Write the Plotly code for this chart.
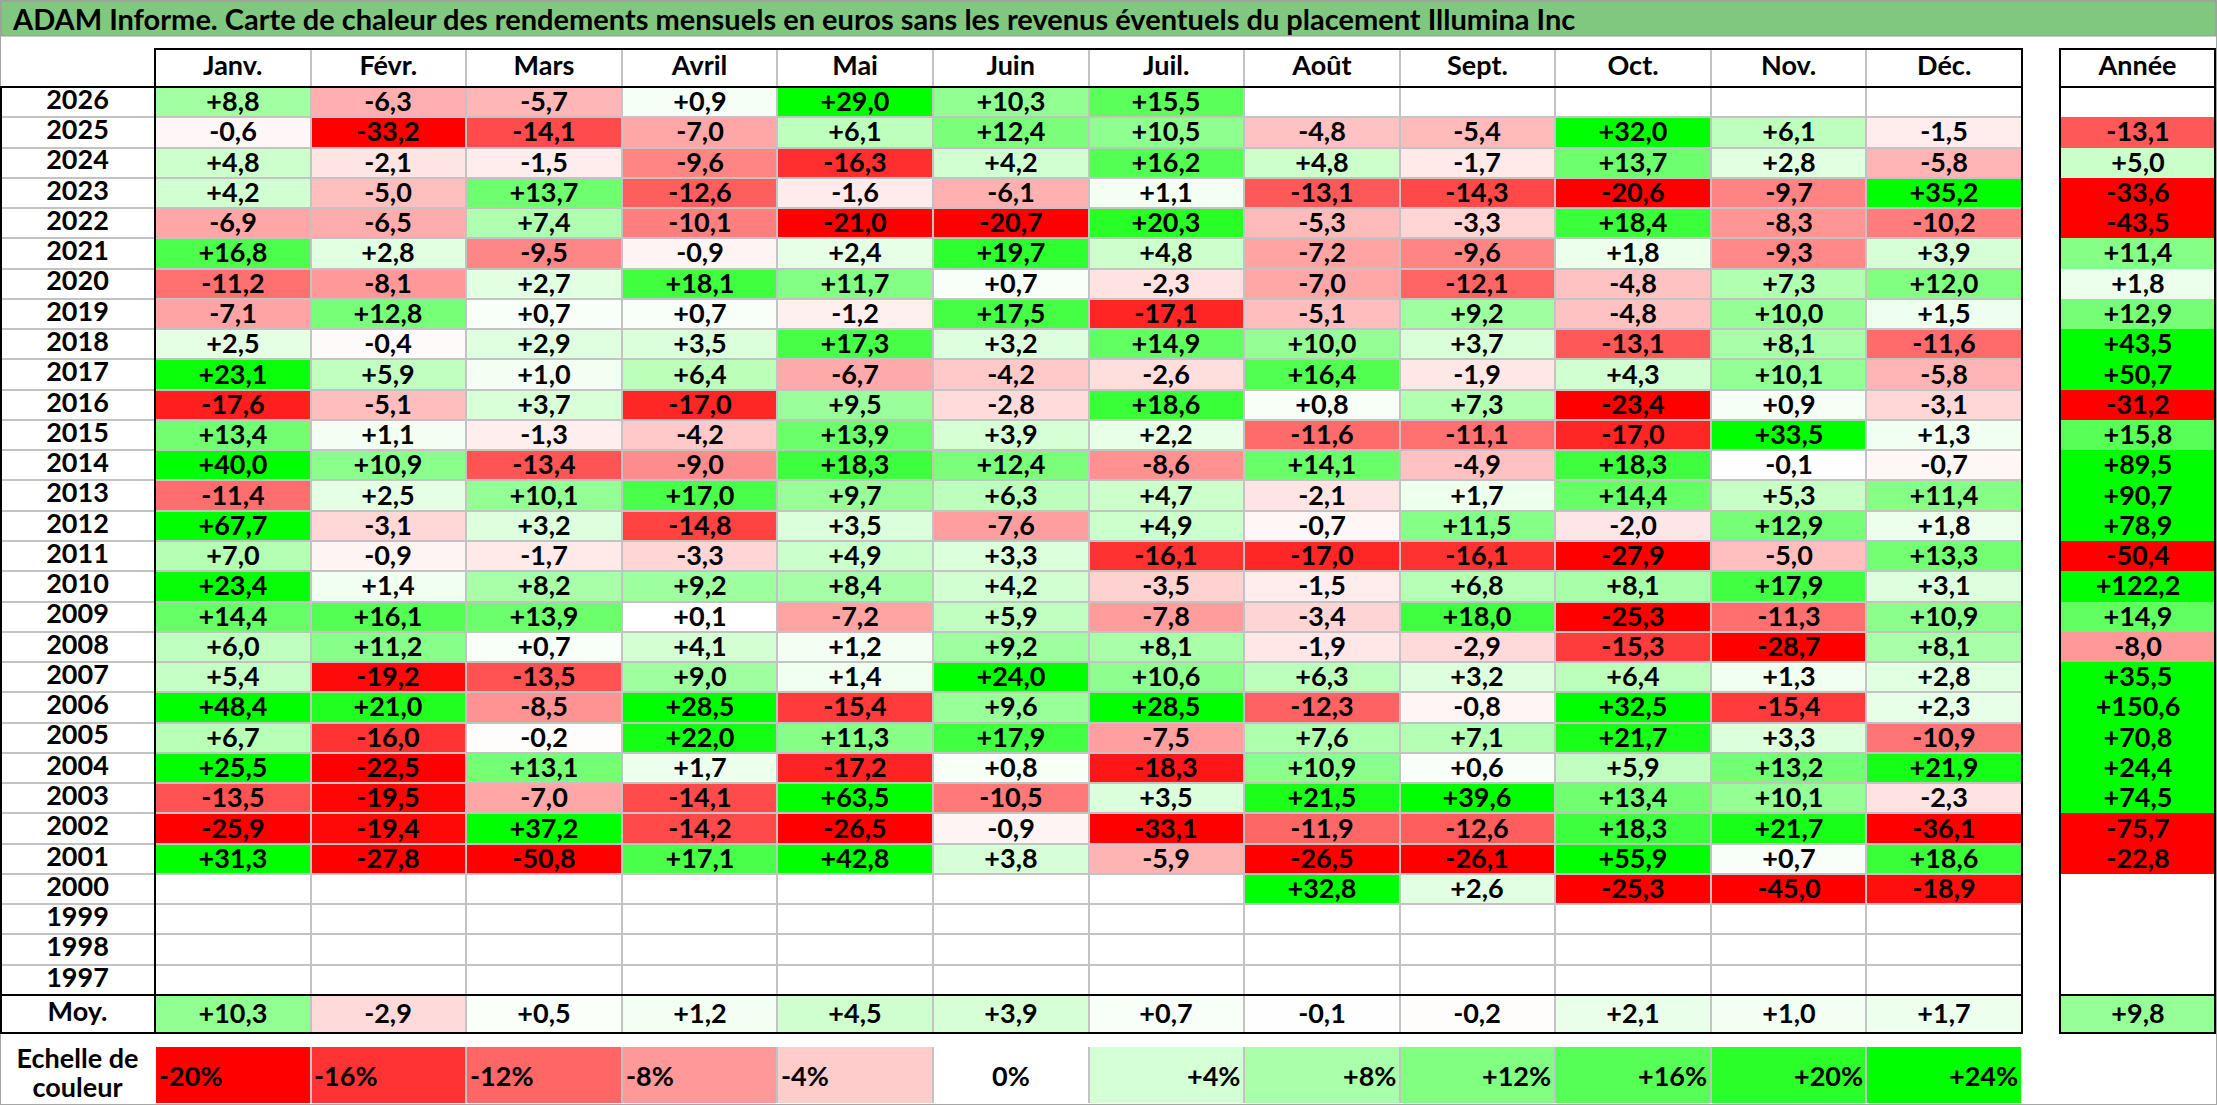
import plotly.graph_objects as go

# ---- data ----
months = ['Janv.', 'Févr.', 'Mars', 'Avril', 'Mai', 'Juin', 'Juil.', 'Août', 'Sept.', 'Oct.', 'Nov.', 'Déc.']
years = [2026, 2025, 2024, 2023, 2022, 2021, 2020, 2019, 2018, 2017, 2016, 2015, 2014, 2013, 2012,
         2011, 2010, 2009, 2008, 2007, 2006, 2005, 2004, 2003, 2002, 2001, 2000, 1999, 1998, 1997]

y2026 = [8.8, -6.3, -5.7, 0.9, 29.0, 10.3, 15.5, None, None, None, None, None]
y2025 = [-0.6, -33.2, -14.1, -7.0, 6.1, 12.4, 10.5, -4.8, -5.4, 32.0, 6.1, -1.5]
y2024 = [4.8, -2.1, -1.5, -9.6, -16.3, 4.2, 16.2, 4.8, -1.7, 13.7, 2.8, -5.8]
y2023 = [4.2, -5.0, 13.7, -12.6, -1.6, -6.1, 1.1, -13.1, -14.3, -20.6, -9.7, 35.2]
y2022 = [-6.9, -6.5, 7.4, -10.1, -21.0, -20.7, 20.3, -5.3, -3.3, 18.4, -8.3, -10.2]
y2021 = [16.8, 2.8, -9.5, -0.9, 2.4, 19.7, 4.8, -7.2, -9.6, 1.8, -9.3, 3.9]
y2020 = [-11.2, -8.1, 2.7, 18.1, 11.7, 0.7, -2.3, -7.0, -12.1, -4.8, 7.3, 12.0]
y2019 = [-7.1, 12.8, 0.7, 0.7, -1.2, 17.5, -17.1, -5.1, 9.2, -4.8, 10.0, 1.5]
y2018 = [2.5, -0.4, 2.9, 3.5, 17.3, 3.2, 14.9, 10.0, 3.7, -13.1, 8.1, -11.6]
y2017 = [23.1, 5.9, 1.0, 6.4, -6.7, -4.2, -2.6, 16.4, -1.9, 4.3, 10.1, -5.8]
y2016 = [-17.6, -5.1, 3.7, -17.0, 9.5, -2.8, 18.6, 0.8, 7.3, -23.4, 0.9, -3.1]
y2015 = [13.4, 1.1, -1.3, -4.2, 13.9, 3.9, 2.2, -11.6, -11.1, -17.0, 33.5, 1.3]
y2014 = [40.0, 10.9, -13.4, -9.0, 18.3, 12.4, -8.6, 14.1, -4.9, 18.3, -0.1, -0.7]
y2013 = [-11.4, 2.5, 10.1, 17.0, 9.7, 6.3, 4.7, -2.1, 1.7, 14.4, 5.3, 11.4]
y2012 = [67.7, -3.1, 3.2, -14.8, 3.5, -7.6, 4.9, -0.7, 11.5, -2.0, 12.9, 1.8]
y2011 = [7.0, -0.9, -1.7, -3.3, 4.9, 3.3, -16.1, -17.0, -16.1, -27.9, -5.0, 13.3]
y2010 = [23.4, 1.4, 8.2, 9.2, 8.4, 4.2, -3.5, -1.5, 6.8, 8.1, 17.9, 3.1]
y2009 = [14.4, 16.1, 13.9, 0.1, -7.2, 5.9, -7.8, -3.4, 18.0, -25.3, -11.3, 10.9]
y2008 = [6.0, 11.2, 0.7, 4.1, 1.2, 9.2, 8.1, -1.9, -2.9, -15.3, -28.7, 8.1]
y2007 = [5.4, -19.2, -13.5, 9.0, 1.4, 24.0, 10.6, 6.3, 3.2, 6.4, 1.3, 2.8]
y2006 = [48.4, 21.0, -8.5, 28.5, -15.4, 9.6, 28.5, -12.3, -0.8, 32.5, -15.4, 2.3]
y2005 = [6.7, -16.0, -0.2, 22.0, 11.3, 17.9, -7.5, 7.6, 7.1, 21.7, 3.3, -10.9]
y2004 = [25.5, -22.5, 13.1, 1.7, -17.2, 0.8, -18.3, 10.9, 0.6, 5.9, 13.2, 21.9]
y2003 = [-13.5, -19.5, -7.0, -14.1, 63.5, -10.5, 3.5, 21.5, 39.6, 13.4, 10.1, -2.3]
y2002 = [-25.9, -19.4, 37.2, -14.2, -26.5, -0.9, -33.1, -11.9, -12.6, 18.3, 21.7, -36.1]
y2001 = [31.3, -27.8, -50.8, 17.1, 42.8, 3.8, -5.9, -26.5, -26.1, 55.9, 0.7, 18.6]
y2000 = [None, None, None, None, None, None, None, 32.8, 2.6, -25.3, -45.0, -18.9]
y1999 = [None, None, None, None, None, None, None, None, None, None, None, None]
y1998 = [None, None, None, None, None, None, None, None, None, None, None, None]
y1997 = [None, None, None, None, None, None, None, None, None, None, None, None]

annee = [None, -13.1, 5.0, -33.6, -43.5, 11.4, 1.8, 12.9, 43.5, 50.7, -31.2, 15.8, 89.5, 90.7, 78.9,
         -50.4, 122.2, 14.9, -8.0, 35.5, 150.6, 70.8, 24.4, 74.5, -75.7, -22.8, None, None, None, None]
moy = [10.3, -2.9, 0.5, 1.2, 4.5, 3.9, 0.7, -0.1, -0.2, 2.1, 1.0, 1.7]
moy_annee = 9.8
scale_steps = [-20, -16, -12, -8, -4, 0, 4, 8, 12, 16, 20, 24]

title = ("ADAM Informe. Carte de chaleur des rendements mensuels en euros "
         "sans les revenus éventuels du placement Illumina Inc")

monthly = [y2026, y2025, y2024, y2023, y2022, y2021, y2020, y2019, y2018, y2017, y2016, y2015,
           y2014, y2013, y2012, y2011, y2010, y2009, y2008, y2007, y2006, y2005, y2004, y2003,
           y2002, y2001, y2000, y1999, y1998, y1997]

# ---- layout in pixels ----
W, H = 2217, 1105
LAB_R = 155
MON_L, MON_R = 155, 2022
ANN_L, ANN_R = 2060, 2215
TITLE_B = 36
HEAD_T, HEAD_B = 49, 87
GRID_B = 995
MOY_B = 1033
SCALE_T, SCALE_B = 1047, 1103

FONT = "Lato"
FS = 27
GRID = "#C3C3C3"

def fx(p):
    return p / W

def fy(p):
    return 1 - p / H

def fmt(v):
    if v is None:
        return ""
    return ("%+.1f" % v).replace(".", ",")

def cell_font():
    return dict(family=FONT, size=FS, color="black", weight="bold")

zmin, zmax = -20, 24
cscale = [[0, "rgb(255,0,0)"], [(0 - zmin) / (zmax - zmin), "rgb(255,255,255)"], [1, "rgb(0,255,0)"]]

col_idx = list(range(len(months)))

fig = go.Figure()

# monthly grid
fig.add_trace(go.Heatmap(
    x=col_idx, y=years, z=monthly,
    text=[[fmt(v) for v in row] for row in monthly], texttemplate="%{text}", textfont=cell_font(),
    colorscale=cscale, zmin=zmin, zmax=zmax, showscale=False, xgap=2, ygap=2,
    hoverongaps=False, hoverinfo="skip", xaxis="x", yaxis="y"))

# yearly column
fig.add_trace(go.Heatmap(
    x=[0], y=years, z=[[v] for v in annee],
    text=[[fmt(v)] for v in annee], texttemplate="%{text}", textfont=cell_font(),
    colorscale=cscale, zmin=zmin, zmax=zmax, showscale=False,
    hoverongaps=False, hoverinfo="skip", xaxis="x2", yaxis="y5"))

# averages row
fig.add_trace(go.Heatmap(
    x=col_idx, y=[0], z=[moy], text=[[fmt(v) for v in moy]], texttemplate="%{text}",
    textfont=cell_font(), colorscale=cscale, zmin=zmin, zmax=zmax, showscale=False, xgap=2,
    hoverinfo="skip", xaxis="x", yaxis="y2"))
fig.add_trace(go.Heatmap(
    x=[0], y=[0], z=[[moy_annee]], text=[[fmt(moy_annee)]], texttemplate="%{text}",
    textfont=cell_font(), colorscale=cscale, zmin=zmin, zmax=zmax, showscale=False,
    hoverinfo="skip", xaxis="x2", yaxis="y2"))

# colour scale row
fig.add_trace(go.Heatmap(
    x=col_idx, y=[0], z=[scale_steps], colorscale=cscale, zmin=zmin, zmax=zmax,
    showscale=False, xgap=2, hoverinfo="skip", xaxis="x", yaxis="y3"))

# header labels
fig.add_trace(go.Scatter(x=col_idx, y=[0] * len(months), text=months, mode="text",
                         textfont=cell_font(), hoverinfo="skip", xaxis="x", yaxis="y4"))
fig.add_trace(go.Scatter(x=[0], y=[0], text=["Année"], mode="text",
                         textfont=cell_font(), hoverinfo="skip", xaxis="x2", yaxis="y4"))

# row labels
fig.add_trace(go.Scatter(x=[0] * len(years), y=years, text=[str(y) for y in years], mode="text",
                         textfont=cell_font(), hoverinfo="skip", xaxis="x3", yaxis="y"))
fig.add_trace(go.Scatter(x=[0], y=[0], text=["Moy."], mode="text",
                         textfont=cell_font(), hoverinfo="skip", xaxis="x3", yaxis="y2"))
# two lines, set tight like the spreadsheet cell
fig.add_trace(go.Scatter(x=[0, 0], y=[0.25, -0.27], text=["Echelle de", "couleur"], mode="text",
                         textfont=cell_font(), hoverinfo="skip", xaxis="x3", yaxis="y3"))

# scale labels: negatives left, 0 centred, positives right
annotations = []
for i, s in enumerate(scale_steps):
    if s < 0:
        txt, anchor, shift = "%d%%" % s, "left", -76
    elif s == 0:
        txt, anchor, shift = "0%", "center", 0
    else:
        txt, anchor, shift = "+%d%%" % s, "right", 76
    annotations.append(dict(x=i, y=0, xref="x", yref="y3", text=txt, showarrow=False,
                            xanchor=anchor, xshift=shift, font=cell_font()))

annotations.append(dict(x=fx(10), y=fy(TITLE_B / 2), xref="paper", yref="paper", text=title,
                        showarrow=False, xanchor="left", yanchor="middle",
                        font=dict(family=FONT, size=29, color="black", weight="bold")))

# borders
black = dict(color="black", width=2)
shapes = [
    dict(type="rect", x0=0, x1=1, y0=0, y1=1, xref="paper", yref="paper",
         line=dict(color="#A6A6A6", width=2), layer="below"),
    dict(type="rect", x0=fx(1), x1=fx(W - 1), y0=fy(TITLE_B), y1=fy(1), xref="paper", yref="paper",
         fillcolor="#80C880", line=dict(color="#9A9A9A", width=1), layer="below"),
    dict(type="rect", x0=fx(MON_L), x1=fx(MON_R), y0=fy(MOY_B), y1=fy(HEAD_T),
         xref="paper", yref="paper", line=black),
    dict(type="rect", x0=fx(ANN_L), x1=fx(ANN_R), y0=fy(MOY_B), y1=fy(HEAD_T),
         xref="paper", yref="paper", line=black),
    dict(type="line", x0=fx(1), x1=fx(1), y0=fy(MOY_B), y1=fy(HEAD_B),
         xref="paper", yref="paper", line=black),
]
for yy in (HEAD_B, GRID_B, MOY_B):
    shapes.append(dict(type="line", x0=0, x1=fx(MON_R), y0=fy(yy), y1=fy(yy),
                       xref="paper", yref="paper", line=black))
    shapes.append(dict(type="line", x0=fx(ANN_L), x1=fx(ANN_R), y0=fy(yy), y1=fy(yy),
                       xref="paper", yref="paper", line=black))

hidden = dict(showticklabels=False, ticks="", zeroline=False, showline=False, fixedrange=True)

fig.update_layout(
    width=W, height=H, margin=dict(l=0, r=0, t=0, b=0),
    paper_bgcolor="white", plot_bgcolor="white", showlegend=False,
    font=dict(family=FONT),
    xaxis=dict(domain=[fx(MON_L), fx(MON_R)], range=[-0.5, len(months) - 0.5],
               tickvals=[i + 0.5 for i in col_idx[:-1]], showgrid=True, gridcolor=GRID,
               gridwidth=2, anchor="y", **hidden),
    xaxis2=dict(domain=[fx(ANN_L), fx(ANN_R)], range=[-0.5, 0.5], showgrid=False,
                anchor="y5", **hidden),
    xaxis3=dict(domain=[0, fx(LAB_R)], range=[-0.5, 0.5], showgrid=False, anchor="y", **hidden),
    yaxis=dict(domain=[fy(GRID_B), fy(HEAD_B)], range=[years[-1] - 0.5, years[0] + 0.5],
               tickvals=[y + 0.5 for y in years[1:]], showgrid=True, gridcolor=GRID,
               gridwidth=2, anchor="x", **hidden),
    yaxis2=dict(domain=[fy(MOY_B), fy(GRID_B)], range=[-0.5, 0.5], showgrid=False,
                anchor="x", **hidden),
    yaxis3=dict(domain=[fy(SCALE_B), fy(SCALE_T)], range=[-0.5, 0.5], showgrid=False,
                anchor="x", **hidden),
    yaxis4=dict(domain=[fy(HEAD_B), fy(HEAD_T)], range=[-0.5, 0.5], showgrid=False,
                anchor="x", **hidden),
    yaxis5=dict(domain=[fy(GRID_B), fy(HEAD_B)], range=[years[-1] - 0.5, years[0] + 0.5],
                showgrid=False, anchor="x2", **hidden),
    annotations=annotations,
    shapes=shapes,
)

fig.write_html("out.html", config={"displayModeBar": False},
               post_script="document.body.style.margin='0';")
